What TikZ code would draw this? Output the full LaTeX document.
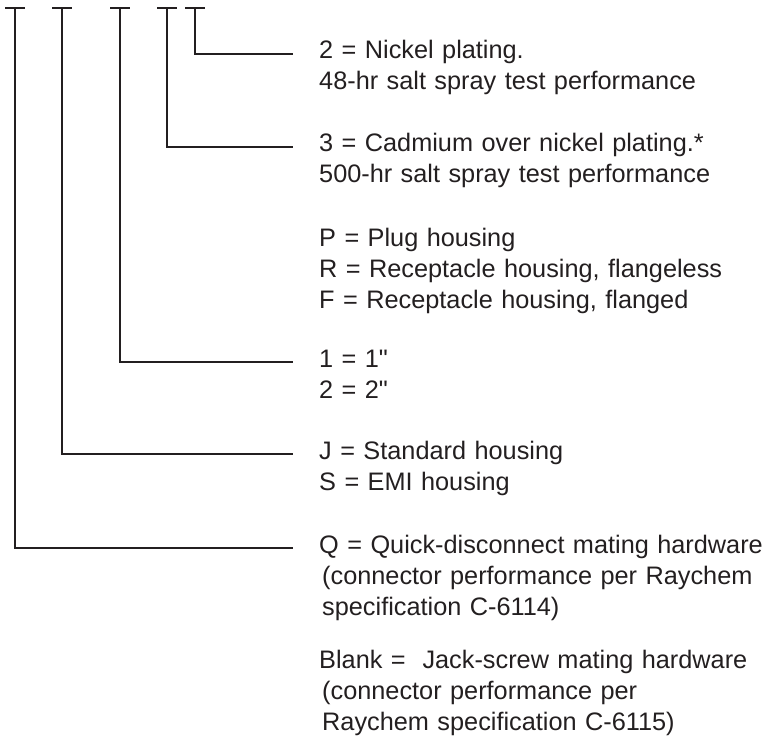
\documentclass[tikz,border=0pt]{standalone}
\usepackage{fontspec}
\setmainfont{Liberation Sans}[Ligatures=TeXOff]
\usetikzlibrary{positioning}
\definecolor{LegendInk}{HTML}{231F20}

\begin{document}
\begin{tikzpicture}[x=1pt,y=-1pt]
  \tikzset{
    lead/.style={LegendInk, line width=1.2pt},
    capbar/.style={LegendInk, line width=1.6pt},
    legend/.style={LegendInk, anchor=base west, align=left, inner sep=0pt,
      text width=460pt, font=\fontsize{25.3}{31}\selectfont},
  }
  \useasboundingbox (0,0) rectangle (767,751);

  % top ticks, one per code position
  \foreach \name/\x in {t1/15, t2/62, t3/120, t4/167, t5/195}{
    \coordinate (\name) at (\x,8);
    \draw[capbar] ([xshift=-10pt]\name) -- ([xshift=10pt]\name);
  }

  % legend text
  \node[legend] (nickel) at (319,59) {2 = Nickel plating.\\48-hr salt spray test performance};
  \node[legend] (cadmium) at (319,152) {3 = Cadmium over nickel plating.*\\500-hr salt spray test performance};
  \node[legend] (housing) at (319,246) {P = Plug housing\\R = Receptacle housing, flangeless\\F = Receptacle housing, flanged};
  \node[legend] (length) at (319,367) {1 = 1"\\2 = 2"};
  \node[legend] (shell) at (319,459) {J = Standard housing\\S = EMI housing};
  \node[legend] (mating) at (319,553) {Q = Quick-disconnect mating hardware\\
    \hspace*{3pt}(connector performance per Raychem\\
    \hspace*{3pt}specification C-6114)};
  \node[legend] (blank) at (319,668) {Blank =\ \ Jack-screw mating hardware\\
    \hspace*{3pt}(connector performance per\\
    \hspace*{3pt}Raychem specification C-6115)};

  % leaders from ticks to text
  \draw[lead] (t5) |- ([xshift=-26pt,yshift=5pt]nickel.base west);
  \draw[lead] (t4) |- ([xshift=-26pt,yshift=5pt]cadmium.base west);
  \draw[lead] (t3) |- ([xshift=-26pt,yshift=5pt]length.base west);
  \draw[lead] (t2) |- ([xshift=-26pt,yshift=5pt]shell.base west);
  \draw[lead] (t1) |- ([xshift=-26pt,yshift=5pt]mating.base west);
\end{tikzpicture}
\end{document}
